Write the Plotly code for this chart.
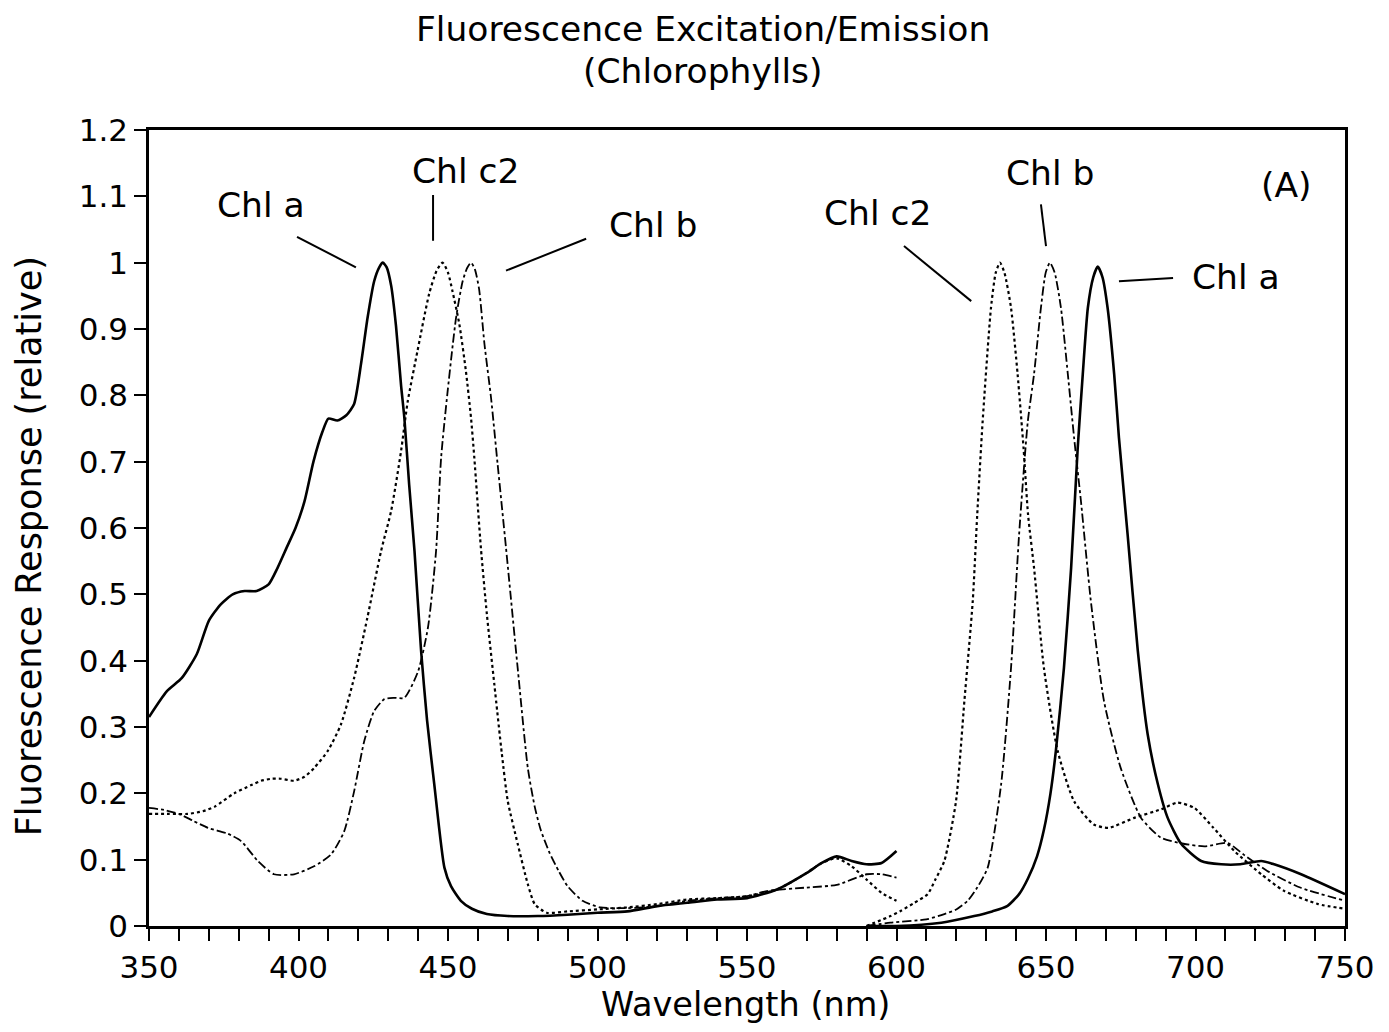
import plotly.graph_objects as go

# ---------------- data ----------------
# Excitation spectra (350-600 nm)
exc_a_x = [350, 356, 361, 366, 370, 374, 378, 382, 386, 390, 393, 396, 399, 402, 405, 408, 410, 413,
           416, 418.6, 420.9, 423.1, 425.3, 427, 428.2, 429.5, 431, 432.6, 434.3, 435.4, 437, 438.8,
           441, 443, 445.4, 448.8, 451, 454.3, 458, 463, 470, 480, 490, 500, 510, 520, 530, 540,
           550, 560, 570, 575, 580, 585, 590, 595, 600]
exc_a_y = [0.315, 0.354, 0.374, 0.41, 0.46, 0.485, 0.50, 0.505, 0.505, 0.515, 0.54, 0.57, 0.60,
           0.64, 0.70, 0.745, 0.765, 0.762, 0.77, 0.787, 0.847, 0.917, 0.972, 0.993, 1.0, 0.993,
           0.965, 0.905, 0.815, 0.766, 0.666, 0.565, 0.415, 0.31, 0.214, 0.088, 0.06, 0.038, 0.026,
           0.018, 0.015, 0.015, 0.017, 0.02, 0.022, 0.03, 0.035, 0.04, 0.042, 0.055, 0.08, 0.095,
           0.105, 0.098, 0.093, 0.095, 0.113]

exc_c2_x = [350, 356, 363, 368, 372, 378.5, 384, 387.5, 391, 394, 398.5, 402, 405.2, 409.8, 414.2,
            418.6, 423, 427.6, 431, 434.3, 436.5, 439.8, 443.7, 446.2, 448.2, 450, 451.5, 453.8, 456,
            457.7, 458.8, 461, 463, 465.5, 468, 470, 473.3, 476.7, 479, 483, 490, 500, 510, 520,
            530, 540, 550, 560, 570, 575, 580, 585, 590, 595, 600]
exc_c2_y = [0.169, 0.169, 0.169, 0.173, 0.18, 0.2, 0.212, 0.219, 0.222, 0.222, 0.219, 0.225, 0.238,
            0.264, 0.304, 0.374, 0.464, 0.565, 0.626, 0.716, 0.79, 0.867, 0.953, 0.988, 1.0, 0.985,
            0.957, 0.907, 0.836, 0.766, 0.706, 0.57, 0.47, 0.364, 0.26, 0.188, 0.124, 0.063, 0.033,
            0.02, 0.022, 0.025, 0.028, 0.033, 0.04, 0.042, 0.045, 0.055, 0.08, 0.095, 0.102, 0.09,
            0.07, 0.05, 0.038]

exc_b_x = [350, 355, 360, 365, 369.7, 376.4, 380.8, 386.4, 391.8, 398.5, 405.2, 410.9, 415.3, 418.6,
           422, 425.3, 428.7, 432, 435.4, 440, 443.3, 446, 447.7, 449.9, 452.7, 454.9, 456.4, 457.7,
           459, 460.4, 462.2, 464.4, 466.6, 469.4, 473.3, 476.7, 479, 481, 484, 487, 490, 495, 501,
           510, 520, 530, 540, 550, 557, 570, 580, 590, 595, 600]
exc_b_y = [0.178, 0.175, 0.169, 0.158, 0.148, 0.139, 0.128, 0.098, 0.078, 0.078, 0.09, 0.108, 0.143,
           0.203, 0.279, 0.324, 0.342, 0.344, 0.344, 0.384, 0.45, 0.565, 0.706, 0.807, 0.917, 0.972,
           0.992, 1.0, 0.99, 0.96, 0.877, 0.796, 0.696, 0.57, 0.389, 0.238, 0.18, 0.145, 0.11, 0.083,
           0.06, 0.038, 0.028, 0.027, 0.03, 0.038, 0.042, 0.045, 0.053, 0.058, 0.062, 0.078, 0.078,
           0.073]

# Emission spectra (600-750 nm)
em_c2_x = [590, 598, 601.5, 606, 610.4, 613, 616, 619.9, 622.7, 625.5, 627, 628.8, 631.6, 633.2,
           634.6, 636.1, 638.3, 640.5, 642.5, 644, 646, 649.3, 653.9, 659.4, 666, 671, 679.5, 688.5,
           694, 699.6, 706, 713, 722, 729.6, 741, 750]
em_c2_y = [0.0, 0.015, 0.023, 0.035, 0.048, 0.07, 0.098, 0.188, 0.339, 0.49, 0.62, 0.76, 0.932,
           0.985, 1.0, 0.985, 0.932, 0.832, 0.72, 0.62, 0.54, 0.389, 0.264, 0.188, 0.153, 0.148,
           0.163, 0.176, 0.186, 0.178, 0.148, 0.113, 0.078, 0.053, 0.033, 0.026]

em_b_x = [590, 598, 610, 616, 620, 623.8, 627, 630.5, 635, 638.3, 641, 643.9, 646, 648.3, 649.9,
          651.3, 652.9, 655, 657.3, 659.4, 661.7, 665, 669.4, 675, 681.8, 688.5, 696, 703, 710.8,
          716, 724, 735, 750]
em_b_y = [0.0, 0.005, 0.01, 0.018, 0.025, 0.038, 0.058, 0.088, 0.214, 0.389, 0.59, 0.76, 0.832,
          0.932, 0.985, 1.0, 0.985, 0.932, 0.832, 0.736, 0.64, 0.49, 0.339, 0.238, 0.163, 0.133,
          0.124, 0.12, 0.125, 0.108, 0.083, 0.058, 0.038]

em_a_x = [590, 600, 615, 626, 632, 637, 641, 644, 647, 649.3, 651.5, 653.3, 656, 658.4, 660.6,
          662.3, 664, 665.8, 667.3, 668.9, 670.6, 672.8, 674.4, 677.3, 680.7, 684, 687.4, 690.7,
          695.2, 701.9, 708.6, 715, 722, 726.3, 735.3, 750]
em_a_y = [0.0, 0.0, 0.005, 0.015, 0.022, 0.03, 0.048, 0.072, 0.105, 0.145, 0.2, 0.264, 0.389, 0.54,
          0.72, 0.832, 0.932, 0.978, 0.994, 0.978, 0.932, 0.832, 0.736, 0.59, 0.415, 0.289, 0.214,
          0.163, 0.124, 0.098, 0.093, 0.093, 0.098, 0.093, 0.078, 0.048]

# Labels
labels_text = ["Chl a", "Chl c2", "Chl b", "Chl c2", "Chl b", "Chl a", "(A)"]
labels_x = [387.5, 456, 518.6, 593.8, 651.3, 713.5, 730.3]
labels_y = [1.087, 1.138, 1.057, 1.075, 1.135, 0.978, 1.117]
# pointer lines: (x0, y0, x1, y1)
pointers = [(399.5, 1.039, 419.2, 0.993),
            (445.0, 1.102, 445.0, 1.033),
            (469.4, 0.988, 496.2, 1.036),
            (602.5, 1.025, 625.0, 0.942),
            (648.3, 1.088, 650.0, 1.025),
            (674.4, 0.972, 692.5, 0.977)]

title_lines = ["Fluorescence Excitation/Emission", "(Chlorophylls)"]
x_title = "Wavelength (nm)"
y_title = "Fluorescence Response (relative)"

FONT = "DejaVu Sans"

fig = go.Figure()
styles = {
    "a": dict(color="black", width=2.6, dash="solid"),
    "c2": dict(color="black", width=2.2, dash="dot"),
    "b": dict(color="black", width=1.8, dash="dashdot"),
}
for xs, ys, key in [(exc_a_x, exc_a_y, "a"), (exc_c2_x, exc_c2_y, "c2"), (exc_b_x, exc_b_y, "b"),
                    (em_c2_x, em_c2_y, "c2"), (em_b_x, em_b_y, "b"), (em_a_x, em_a_y, "a")]:
    fig.add_trace(go.Scatter(x=xs, y=ys, mode="lines", line=dict(shape="spline", smoothing=0.6,
                                                                  **styles[key]),
                             showlegend=False, hoverinfo="skip"))

for t, x, y in zip(labels_text, labels_x, labels_y):
    fig.add_annotation(x=x, y=y, text=t, showarrow=False, xref="x", yref="y",
                       xanchor="center", yanchor="middle",
                       font=dict(family=FONT, size=34.5, color="black"))
for x0, y0, x1, y1 in pointers:
    fig.add_shape(type="line", x0=x0, y0=y0, x1=x1, y1=y1, xref="x", yref="y",
                  line=dict(color="black", width=2))

# titles as paper-anchored annotations
common = dict(xref="paper", yref="paper", showarrow=False, xanchor="center", yanchor="middle")
fig.add_annotation(x=0.463, y=1.127, text=title_lines[0],
                   font=dict(family=FONT, size=34.5, color="black"), **common)
fig.add_annotation(x=0.463, y=1.074, text=title_lines[1],
                   font=dict(family=FONT, size=34.5, color="black"), **common)
fig.add_annotation(x=0.499, y=-0.098, text=x_title,
                   font=dict(family=FONT, size=33.5, color="black"), **common)
fig.add_annotation(x=-0.1003, y=0.477, text=y_title, textangle=-90,
                   font=dict(family=FONT, size=35, color="black"), **common)

fig.update_layout(
    width=1389, height=1032,
    margin=dict(l=141, r=52, t=122, b=114, autoexpand=False),
    paper_bgcolor="white", plot_bgcolor="white",
    font=dict(family=FONT, color="black"),
)
fig.update_xaxes(range=[350, 750], dtick=50, tick0=350, ticks="outside", ticklen=12, tickwidth=2,
                 tickcolor="black", showgrid=False, zeroline=False, showline=True, linewidth=2.5,
                 linecolor="black", mirror=True, automargin=False,
                 minor=dict(dtick=10, ticks="outside", ticklen=12, tickwidth=2, tickcolor="black",
                            showgrid=False),
                 tickfont=dict(family=FONT, size=31, color="black"))
fig.update_yaxes(range=[0, 1.2], dtick=0.1, tick0=0, ticks="outside", ticklen=12, tickwidth=2,
                 tickcolor="black", showgrid=False, zeroline=False, showline=True, linewidth=2.5,
                 linecolor="black", mirror=True, automargin=False,
                 tickfont=dict(family=FONT, size=31, color="black"))

fig.write_html("out.html")
